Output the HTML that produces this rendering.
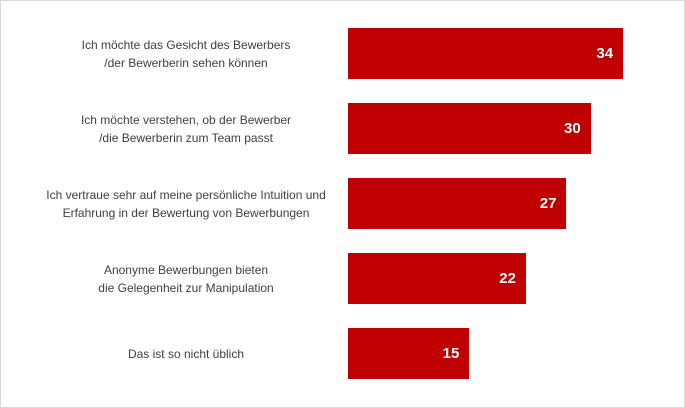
<!DOCTYPE html>
<html><head><meta charset="utf-8"><style>
body{margin:0;background:#fff;}
#wrap{position:relative;width:683px;height:406px;border:1px solid #d9d9d9;background:#fff;font-family:"Liberation Sans",sans-serif;overflow:hidden;}
.lbl{position:absolute;width:300px;text-align:center;font-size:12px;line-height:18px;color:#404040;}
.bar{position:absolute;background:#c00000;}
.val{position:absolute;color:#fff;font-weight:bold;font-size:15px;text-align:right;}
</style></head><body>
<div id="wrap"></div>
<script>
const categories=[
["Ich möchte das Gesicht des Bewerbers","/der Bewerberin sehen können"],
["Ich möchte verstehen, ob der Bewerber","/die Bewerberin zum Team passt"],
["Ich vertraue sehr auf meine persönliche Intuition und","Erfahrung in der Bewertung von Bewerbungen"],
["Anonyme Bewerbungen bieten","die Gelegenheit zur Manipulation"],
["Das ist so nicht üblich"]
];
const values=[34,30,27,22,15];
const wrap=document.getElementById('wrap');
const x0=347, scale=8.09, top0=27, step=75, bh=51;
function xs(v){return v*scale;}
categories.forEach((c,i)=>{
  const y=top0+i*step;
  const l=document.createElement('div');
  l.className='lbl';
  
  
  l.style.left=(335-300)+'px';
  l.style.top=(y+bh/2-c.length*9)+'px';
  l.innerHTML=c.join('<br>');
  wrap.appendChild(l);
  const b=document.createElement('div');
  b.className='bar';
  
  
  b.style.left=x0+'px';b.style.top=y+'px';b.style.width=xs(values[i])+'px';b.style.height=bh+'px';
  wrap.appendChild(b);
  const v=document.createElement('div');
  v.className='val';
  
  
  v.style.left=(x0+xs(values[i])-60)+'px';v.style.width='50px';
  v.style.top=(y+bh/2-9)+'px';
  v.textContent=values[i];
  wrap.appendChild(v);
});
</script>
</body></html>
